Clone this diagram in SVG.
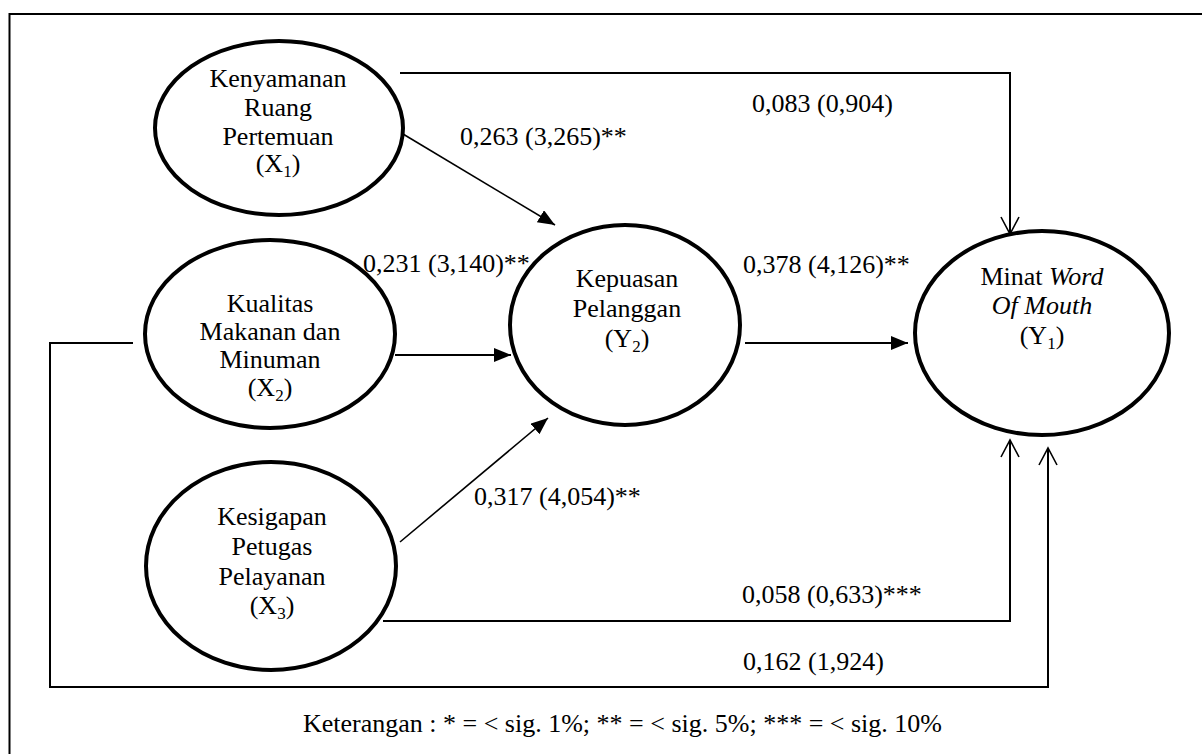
<svg xmlns="http://www.w3.org/2000/svg" width="1202" height="754" viewBox="0 0 1202 754">
<style>
.t{font-family:"Liberation Serif","Times New Roman",Tinos,serif;font-size:26px;fill:#000}
.n{text-anchor:middle}
.e{fill:#fff;stroke:#000;stroke-width:4}
.c{fill:none;stroke:#000;stroke-width:2}
.s{font-size:17px}
</style>
<defs>
<marker id="fa" markerUnits="userSpaceOnUse" markerWidth="20" markerHeight="16" refX="17" refY="7" orient="auto">
<path d="M0,0 L17,7 L0,14 Z" fill="#000"/>
</marker>
<marker id="oa" markerUnits="userSpaceOnUse" markerWidth="20" markerHeight="22" refX="18" refY="10" orient="auto">
<path d="M1,1 L18,10 L1,19" fill="none" stroke="#000" stroke-width="1.6"/>
</marker>
</defs>
<rect width="1202" height="754" fill="#fff"/>
<path d="M9.5,754 V14 H1202" fill="none" stroke="#000" stroke-width="2"/>
<g id="connectors">
<path class="c" d="M400,73 H1010 V234" marker-end="url(#oa)"/>
<path class="c" d="M403,134 L555,225" marker-end="url(#fa)" style="stroke-width:1.6"/>
<path class="c" d="M395,355 H511" marker-end="url(#fa)"/>
<path class="c" d="M400,542 L548,418" marker-end="url(#fa)" style="stroke-width:1.6"/>
<path class="c" d="M745,343 H908" marker-end="url(#fa)"/>
<path class="c" d="M383,621 H1010 V440" marker-end="url(#oa)"/>
<path class="c" d="M133,343 H50 V687 H1048 V448" marker-end="url(#oa)"/>
</g>
<g id="node-x1">
<ellipse class="e" cx="279" cy="128" rx="124" ry="87"/>
<text class="t n" x="278" y="87">Kenyamanan</text>
<text class="t n" x="278" y="116">Ruang</text>
<text class="t n" x="278" y="145">Pertemuan</text>
<text class="t n" x="278" y="172">(X<tspan class="s" dy="5">1</tspan><tspan dy="-5">)</tspan></text>
</g>
<g id="node-x2">
<ellipse class="e" cx="270" cy="334" rx="125" ry="94"/>
<text class="t n" x="270" y="312">Kualitas</text>
<text class="t n" x="270" y="340">Makanan dan</text>
<text class="t n" x="270" y="368">Minuman</text>
<text class="t n" x="270" y="396">(X<tspan class="s" dy="5">2</tspan><tspan dy="-5">)</tspan></text>
</g>
<g id="node-x3">
<ellipse class="e" cx="271" cy="566" rx="125" ry="104"/>
<text class="t n" x="272" y="525">Kesigapan</text>
<text class="t n" x="272" y="555">Petugas</text>
<text class="t n" x="272" y="585">Pelayanan</text>
<text class="t n" x="272" y="614">(X<tspan class="s" dy="5">3</tspan><tspan dy="-5">)</tspan></text>
</g>
<g id="node-y2">
<ellipse class="e" cx="625" cy="325" rx="115" ry="100"/>
<text class="t n" x="627" y="287">Kepuasan</text>
<text class="t n" x="627" y="317">Pelanggan</text>
<text class="t n" x="627" y="347">(Y<tspan class="s" dy="5">2</tspan><tspan dy="-5">)</tspan></text>
</g>
<g id="node-y1">
<ellipse class="e" cx="1042" cy="333" rx="127" ry="102"/>
<text class="t n" x="1042" y="285">Minat <tspan font-style="italic">Word</tspan></text>
<text class="t n" x="1042" y="314" font-style="italic">Of Mouth</text>
<text class="t n" x="1042" y="344">(Y<tspan class="s" dy="5">1</tspan><tspan dy="-5">)</tspan></text>
</g>
<g id="labels">
<text class="t" x="752" y="112">0,083 (0,904)</text>
<text class="t" x="460" y="145">0,263 (3,265)**</text>
<text class="t" x="363" y="272">0,231 (3,140)**</text>
<text class="t" x="743" y="273">0,378 (4,126)**</text>
<text class="t" x="474" y="505">0,317 (4,054)**</text>
<text class="t" x="742" y="603">0,058 (0,633)***</text>
<text class="t" x="743" y="670">0,162 (1,924)</text>
<text class="t" x="303" y="732">Keterangan : * = &lt; sig. 1%; ** = &lt; sig. 5%; *** = &lt; sig. 10%</text>
</g>
</svg>
